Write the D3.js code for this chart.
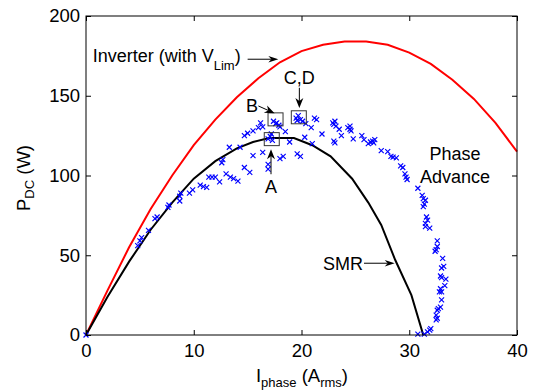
<!DOCTYPE html>
<html><head><meta charset="utf-8">
<script src="https://cdn.jsdelivr.net/npm/d3@7"></script>
<style>
body{margin:0;background:#fff}
text{font-family:"Liberation Sans",Arial,sans-serif;fill:#000}
</style></head><body>
<svg id="chart" width="535" height="390"></svg>
<script>
// ---- data ----
const xTicks = [0, 10, 20, 30, 40];
const yTicks = [0, 50, 100, 150, 200];

// Inverter (with V_Lim) curve
const inverterI = [0, 2, 4, 6, 8, 10, 12, 14, 16, 18, 20, 22, 24, 26, 28, 30, 32, 34, 36, 38, 40];
const inverterP = [0, 28, 55, 79, 100, 119, 135, 149, 161, 171, 178, 182, 184, 184, 182, 177, 170, 160, 148, 133, 115];

// SMR curve
const smrI = [0, 2, 4, 6, 8, 10, 12, 14, 15.5, 17, 19.3, 21, 22.7, 24.7, 26.2, 27.4, 28.7, 30.2, 31.3];
const smrP = [0, 24, 46, 66, 83, 98, 109, 117, 121, 123.5, 123.5, 119, 112, 98, 83, 69, 47, 25, 0];

// Phase advance measurements [I, P]
const phaseAdvance = [
 [0,0],
 [4.8,56],[5.0,59],[5.16,61],[5.8,65.6],[6.4,73],[6.6,74],[7.6,80],[7.7,81.5],
 [8.7,84],[8.7,87],[8.8,89],[9.6,89],[9.9,91],
 [10.6,94],[10.9,93],[11.2,92.5],
 [11.4,99],[11.7,99],[12.0,99],[12.4,96],
 [12.6,108],[12.7,110],
 [13.0,101],[13.4,99],[13.7,98],[14.1,96.5],
 [13.3,117.7],[14.3,117.7],
 [14.7,105],[15.2,102],
 [14.7,125],[15.0,126.5],[15.5,128],
 [15.5,112.5],
 [16.0,130],[16.2,133],[16.4,130.5],
 [16.4,114.5],
 [16.9,104],[16.9,107],
 [16.9,123],[17.1,124.5],[17.3,122],[17.2,126],
 [17.4,134],[17.7,133],[17.9,131.5],[18.0,130.5],[17.6,132.5],
 [18.0,110.6],[18.3,112],
 [18.5,127.5],[18.9,121],
 [19.6,113.5],[19.9,112],
 [19.5,136],[19.7,137.5],[19.9,135],[20.1,134],[19.6,134.5],
 [20.3,124],[20.4,132.5],[20.9,130],[21.0,120],
 [21.2,136],[21.4,135],
 [21.9,126],
 [22.9,133],[23.0,132],[23.1,134],[23.2,131],
 [23.0,121.5],[23.1,120.5],
 [23.5,129],[23.7,125],
 [24.3,130],[24.5,129],[24.5,131],[24.6,128],
 [24.8,123],
 [25.6,125],[25.8,122.5],
 [26.2,120],[26.4,121],[26.6,121.5],[26.8,122.5],[26.7,120.5],
 [27.4,115.6],
 [28.0,115],[28.3,112],[28.5,111.5],[28.8,111],
 [29.2,106],[29.4,105],
 [29.6,101],[29.7,99],[29.8,97.5],
 [30.8,92],
 [31.2,87.5],[31.3,85.5],[31.5,84.5],[31.4,82],[31.3,80.5],
 [31.6,74],[31.7,72],[31.5,70],[31.5,68],[31.9,67],
 [32.6,59],[32.6,55.5],[32.5,53.5],[32.4,52.5],
 [33.1,48],[33.2,43],[33.0,42],[32.9,37],[33.0,36],[33.4,35],
 [32.9,29],[33.0,27],[33.3,31],[32.8,27],
 [33.0,22],[32.9,17.5],[32.7,16.5],[32.6,15.5],[32.5,12.5],[32.6,10.5],[32.5,9.5],
 [32.0,4],[31.9,3],[31.7,2],
 [31.4,0.5],[30.8,0.5]
];

// highlighted operating points (boxes) [I, P]
const boxPoints = [[17.24,122.8],[17.59,135.2],[19.75,136.5]];

// annotation arrows (data units)
const arrows = [
  {from:[15.0,172.9], to:[17.85,172.9], w:3.2},
  {from:[19.8,155.0], to:[19.8,142.3], w:4},
  {from:[16.0,143.6], to:[17.5,139.0], w:4},
  {from:[17.17,100.8], to:[17.17,116.4], w:4},
  {from:[25.8,45.0], to:[28.65,45.0], w:3.2}
];

// ---- chart ----
const svg = d3.select("#chart");
const x = d3.scaleLinear().domain([0, 40]).range([86, 517]);
const y = d3.scaleLinear().domain([0, 200]).range([335, 16]);
const FONT = '"Liberation Sans",Arial,sans-serif';

const line = d3.line().x(d => x(d[0])).y(d => y(d[1]));
svg.append("path")
  .attr("d", line(inverterI.map((v,i)=>[v, inverterP[i]])))
  .attr("fill","none").attr("stroke","#ff0000").attr("stroke-width",2);
svg.append("path")
  .attr("d", line(smrI.map((v,i)=>[v, smrP[i]])))
  .attr("fill","none").attr("stroke","#000").attr("stroke-width",2);

const s = 2.5;
svg.append("g").selectAll("path").data(phaseAdvance).join("path")
  .attr("transform", d => `translate(${x(d[0])},${y(d[1])})`)
  .attr("d", `M${-s},${-s}L${s},${s}M${-s},${s}L${s},${-s}`)
  .attr("stroke","#0000ff").attr("stroke-width",1.15).attr("fill","none");

svg.append("g").selectAll("rect").data(boxPoints).join("rect")
  .attr("x", d => x(d[0]) - 7.5).attr("y", d => y(d[1]) - 6.5)
  .attr("width", 15).attr("height", 13)
  .attr("fill","none").attr("stroke","#333").attr("stroke-width",1);

function styleAxis(g){
  g.select(".domain").remove();
  g.selectAll("line").attr("stroke","#000");
  g.selectAll("text").attr("font-family", FONT).attr("font-size", 18.5).attr("fill","#000");
}
svg.append("g").attr("transform",`translate(0,${y(0)})`)
  .call(d3.axisBottom(x).tickValues(xTicks).tickSize(-5).tickPadding(9)).call(styleAxis);
svg.append("g").attr("transform",`translate(0,${y(200)})`)
  .call(d3.axisTop(x).tickValues(xTicks).tickSize(-5).tickFormat("")).call(styleAxis);
svg.append("g").attr("transform",`translate(${x(0)},0)`)
  .call(d3.axisLeft(y).tickValues(yTicks).tickSize(-5).tickPadding(6)).call(styleAxis);
svg.append("g").attr("transform",`translate(${x(40)},0)`)
  .call(d3.axisRight(y).tickValues(yTicks).tickSize(-5).tickFormat("")).call(styleAxis);

svg.append("rect").attr("x", x(0)).attr("y", y(200))
  .attr("width", x(40)-x(0)).attr("height", y(0)-y(200))
  .attr("fill","none").attr("stroke","#000").attr("stroke-width",1);

function arrow(a){
  const x1=x(a.from[0]), y1=y(a.from[1]), x2=x(a.to[0]), y2=y(a.to[1]);
  const dx=x2-x1, dy=y2-y1, len=Math.hypot(dx,dy);
  const ux=dx/len, uy=dy/len, nx=-uy, ny=ux;
  const L=10, W=a.w, notch=3;
  svg.append("line").attr("x1",x1).attr("y1",y1)
    .attr("x2",x2-ux*(L-notch)).attr("y2",y2-uy*(L-notch))
    .attr("stroke","#000").attr("stroke-width",1);
  const pts=[[x2,y2],[x2-ux*L+nx*W,y2-uy*L+ny*W],[x2-ux*(L-notch),y2-uy*(L-notch)],[x2-ux*L-nx*W,y2-uy*L-ny*W]];
  svg.append("path").attr("d","M"+pts.map(p=>p.join(",")).join("L")+"Z").attr("fill","#000");
}
arrows.forEach(arrow);

const ann = svg.append("g").attr("font-family",FONT).attr("font-size",18);
const inv = ann.append("text").attr("x", x(0.62)).attr("y", y(171.3));
inv.append("tspan").text("Inverter (with V");
inv.append("tspan").attr("font-size",13).attr("dy",8).text("Lim");
inv.append("tspan").attr("dy",-8).text(")");

ann.append("text").attr("x", x(19.8)).attr("y", y(157.2)).attr("text-anchor","middle").text("C,D");
ann.append("text").attr("x", x(15.4)).attr("y", y(140)).attr("text-anchor","middle").text("B");
ann.append("text").attr("x", x(17.17)).attr("y", y(89.2)).attr("text-anchor","middle").text("A");
ann.append("text").attr("x", x(25.7)).attr("y", y(40.75)).attr("text-anchor","end").text("SMR");
ann.append("text").attr("x", x(34.25)).attr("y", y(109.7)).attr("text-anchor","middle").text("Phase");
ann.append("text").attr("x", x(34.25)).attr("y", y(95.5)).attr("text-anchor","middle").text("Advance");

const xl = svg.append("text").attr("x", 302).attr("y", 382).attr("text-anchor","middle")
  .attr("font-family",FONT).attr("font-size",18.5);
xl.append("tspan").text("I");
xl.append("tspan").attr("font-size",13).attr("dy",5).text("phase");
xl.append("tspan").attr("dy",-5).text(" (A");
xl.append("tspan").attr("font-size",13).attr("dy",5).text("rms");
xl.append("tspan").attr("dy",-5).text(")");

const yl = svg.append("text").attr("transform","translate(30,178) rotate(-90)").attr("text-anchor","middle")
  .attr("font-family",FONT).attr("font-size",18.5);
yl.append("tspan").text("P");
yl.append("tspan").attr("font-size",13).attr("dy",4).text("DC");
yl.append("tspan").attr("dy",-4).text(" (W)");
</script>
</body></html>
